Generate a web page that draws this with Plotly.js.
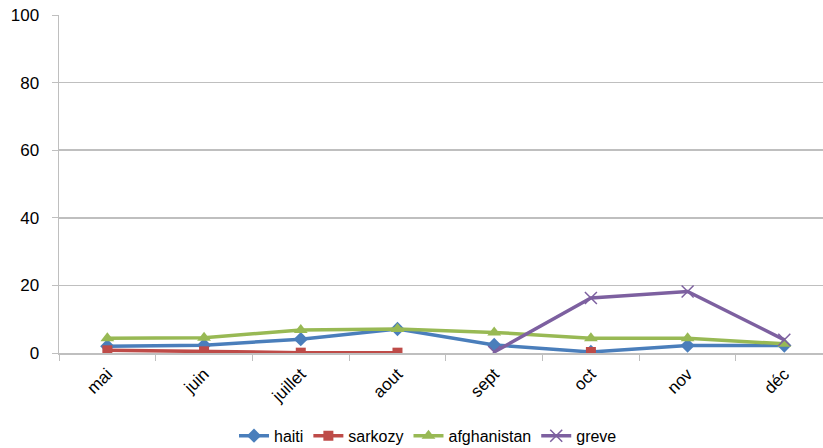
<!DOCTYPE html>
<html>
<head>
<meta charset="utf-8">
<script src="https://cdn.plot.ly/plotly-3.0.1.min.js"></script>
<style>html,body{margin:0;padding:0;background:#fff;}#chart{width:823px;height:448px;}</style>
</head>
<body>
<div id="chart"></div>
<script>
var months = ["mai", "juin", "juillet", "aout", "sept", "oct", "nov", "déc"];
var haiti = [2.0, 2.3, 4.1, 7.1, 2.4, 0.3, 2.2, 2.2];
var sarkozy = [0.8, 0.5, 0.1, 0.1, null, 0.3, null, null];
var afghanistan = [4.4, 4.5, 6.8, 7.1, 6.1, 4.4, 4.4, 2.7];
var greve = [null, null, null, null, 0.3, 16.3, 18.2, 3.9];

var font = "Liberation Sans, Arial, sans-serif";
function tr(name, y, color, symbol, size) {
  return {
    x: months, y: y, name: name, type: "scatter", mode: "lines+markers",
    connectgaps: false,
    line: {color: color, width: 3.5},
    marker: {symbol: symbol, size: size, color: color, line: {color: color, width: symbol.indexOf("x") === 0 ? 1.5 : 0}}
  };
}
var data = [
  tr("haiti", haiti, "#4A7EBB", "diamond", 11),
  tr("sarkozy", sarkozy, "#BE4B48", "square", 10),
  tr("afghanistan", afghanistan, "#98B954", "triangle-up", 12),
  tr("greve", greve, "#7D60A0", "x-thin-open", 12)
];
var layout = {
  width: 823, height: 448,
  margin: {l: 59, r: 0, t: 15, b: 95, autoexpand: false},
  paper_bgcolor: "#fff", plot_bgcolor: "#fff",
  font: {family: font, size: 16, color: "#000"},
  showlegend: true,
  legend: {orientation: "h", x: 0.483, xanchor: "center", y: -0.245, yanchor: "middle",
           font: {family: font, size: 16}, itemwidth: 30, tracegroupgap: 0},
  xaxis: {
    type: "category", range: [-0.5, 7.4],
    showgrid: false, showline: true, linecolor: "#BFBFBF", linewidth: 1.5,
    ticks: "outside", tickson: "boundaries", ticklen: 6, tickcolor: "#BFBFBF",
    ticklabelstandoff: 3,
    tickangle: -45, tickfont: {family: font, size: 17}, zeroline: false
  },
  yaxis: {
    range: [0, 100], dtick: 20, tick0: 0,
    showgrid: true, gridcolor: "#BFBFBF", gridwidth: 1.5,
    showline: true, linecolor: "#BFBFBF", linewidth: 1.5,
    ticks: "outside", ticklen: 6, tickcolor: "#BFBFBF", ticklabelstandoff: 9,
    zeroline: false, tickfont: {family: font, size: 17}
  }
};
Plotly.newPlot("chart", data, layout, {displayModeBar: false, staticPlot: true});
</script>
</body>
</html>
